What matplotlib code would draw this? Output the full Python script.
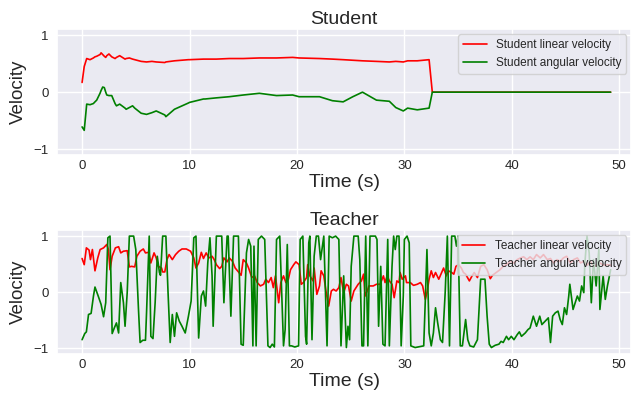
"""Student vs teacher velocity commands over one episode."""

import matplotlib

matplotlib.use("Agg")
import matplotlib.pyplot as plt
import seaborn as sns

# student policy (stops at ~32.6 s, zero afterwards)
student_time = [
    0.0, 0.2, 0.43, 0.74, 1.05, 1.2, 1.36, 1.67, 1.77, 1.92, 2.07, 2.2, 2.3, 2.5,
    2.76, 3.07, 3.2, 3.5, 4.0, 4.1, 4.4, 4.7, 4.9, 5.5, 6.0, 6.5, 6.9, 7.7, 7.8,
    8.6, 9.9, 10.0, 11.3, 11.45, 12.5, 13.7, 15.0, 16.5, 18.1, 19.6, 20.2, 22.1,
    23.3, 24.3, 25.2, 26.1, 27.4, 28.6, 29.2, 29.9, 30.3, 31.2, 32.3, 32.6, 49.2,
]
student_linear = [
    0.17, 0.45, 0.59, 0.57, 0.6, 0.62, 0.63, 0.66, 0.69, 0.66, 0.63, 0.61, 0.64, 0.67,
    0.62, 0.59, 0.61, 0.64, 0.58, 0.59, 0.6, 0.58, 0.57, 0.54, 0.53, 0.54, 0.53, 0.52, 0.53,
    0.55, 0.57, 0.57, 0.58, 0.58, 0.58, 0.59, 0.59, 0.6, 0.6, 0.61, 0.6, 0.59,
    0.58, 0.57, 0.56, 0.55, 0.54, 0.53, 0.54, 0.53, 0.55, 0.55, 0.57, 0.0, 0.0,
]
student_angular = [
    -0.61, -0.67, -0.21, -0.22, -0.2, -0.17, -0.14, -0.02, 0.03, 0.09, 0.08, 0.0, -0.05, -0.06,
    -0.06, -0.2, -0.24, -0.21, -0.28, -0.3, -0.27, -0.24, -0.28, -0.37, -0.39, -0.36, -0.33, -0.4, -0.43,
    -0.3, -0.19, -0.18, -0.12, -0.12, -0.1, -0.08, -0.05, -0.02, -0.06, -0.05, -0.08, -0.08,
    -0.15, -0.17, -0.08, 0.0, -0.14, -0.16, -0.27, -0.33, -0.28, -0.31, -0.28, 0.0, 0.0,
]

# teacher (expert) commands
teacher_lin_time = [
    0.0, 0.2, 0.4, 0.65, 0.78, 0.96, 1.2, 1.46, 1.68, 2.0, 2.3, 2.45, 2.6, 2.8, 3.1,
    3.4, 3.6, 3.85, 4.2, 4.4, 4.6, 4.9, 5.1, 5.4, 5.7, 5.9, 6.2, 6.4, 6.7, 6.9, 7.1,
    7.4, 7.5, 7.7, 7.9, 8.1, 8.4, 8.7, 9.0, 9.3, 9.7, 10.1, 10.4, 10.6, 10.85, 11.1,
    11.3, 11.55, 11.8, 12.1, 12.3, 12.5, 12.8, 13.0, 13.2, 13.5, 13.7, 14.0, 14.25,
    14.6, 14.8, 15.0, 15.3, 15.5, 15.8, 16.05, 16.3, 16.6, 16.9, 17.1, 17.35, 17.6,
    17.8, 18.0, 18.3, 18.5, 18.75, 18.97, 19.2, 19.4, 19.7, 19.9, 20.2, 20.4, 20.6,
    20.9, 21.0, 21.2, 21.5, 21.6, 21.85, 22.1, 22.25, 22.5, 22.7, 22.95, 23.2, 23.4,
    23.65, 23.9, 24.1, 24.35, 24.6, 24.8, 25.05, 25.3, 25.5, 25.7, 26.0, 26.2, 26.35,
    26.6, 26.7, 26.9, 27.1, 27.4, 27.75, 28.05, 28.2, 28.4, 28.6, 28.85, 29.05, 29.3,
    29.5, 29.6, 29.8, 30.1, 30.2, 30.55, 30.85, 31.2, 31.5, 31.7, 31.95, 32.1, 32.3,
    32.5, 32.7, 32.9, 33.2, 33.4, 33.65, 33.9, 34.1, 34.4, 34.6, 34.8, 35.05, 35.3,
    35.5, 35.7, 36.05, 36.3, 36.5, 36.8, 37.1, 37.4, 37.7, 38.0, 38.2, 38.55, 38.9,
    39.2, 39.5, 39.85, 40.2, 40.5, 40.8, 41.1, 41.4, 41.7, 42.0, 42.3, 42.65, 42.95,
    43.3, 43.6, 43.9, 44.2, 44.5, 44.8, 45.1, 45.45, 45.75, 46.1, 46.4, 46.7, 47.0,
    47.3, 47.6, 47.9, 48.2, 48.55, 48.9, 49.2,
]
teacher_linear = [
    0.6, 0.49, 0.79, 0.75, 0.58, 0.76, 0.38, 0.61, 0.76, 0.79, 0.85, 0.76, 0.4, 0.64, 0.79,
    0.81, 0.7, 0.73, 0.74, 0.45, 0.46, 0.45, 0.64, 0.73, 0.77, 0.7, 0.71, 0.52, 0.7, 0.61, 0.46,
    0.43, 0.36, 0.36, 0.58, 0.67, 0.58, 0.67, 0.73, 0.77, 0.77, 0.73, 0.61, 0.43, 0.52, 0.71,
    0.6, 0.7, 0.61, 0.64, 0.58, 0.49, 0.42, 0.46, 0.61, 0.54, 0.61, 0.55, 0.43,
    0.35, 0.3, 0.58, 0.52, 0.43, 0.26, 0.29, 0.17, 0.11, 0.14, 0.23, 0.17, 0.26,
    0.08, 0.29, -0.19, 0.17, 0.29, 0.17, 0.23, 0.4, 0.49, 0.54, 0.49, 0.14, 0.17,
    0.26, 0.49, 0.29, 0.2, 0.43, -0.04, 0.11, 0.38, 0.29, 0.02, -0.25, 0.02, 0.05,
    0.02, 0.08, 0.26, -0.01, 0.14, 0.11, -0.16, 0.02, 0.08, 0.14, 0.2, 0.32, -0.07,
    0.05, 0.11, 0.11, 0.11, 0.14, 0.14, 0.29, 0.17, 0.29, 0.2, 0.14, -0.1, 0.2,
    0.17, 0.35, 0.23, 0.29, 0.17, 0.17, 0.12, 0.14, 0.17, 0.11, -0.13, -0.01, 0.23,
    0.38, 0.26, 0.35, 0.23, 0.32, 0.43, 0.29, 0.38, 0.35, 0.32, 0.46, 0.49, 0.43,
    0.35, 0.32, 0.2, 0.29, 0.35, 0.26, 0.46, 0.49, 0.4, 0.24, 0.3, 0.35, 0.4,
    0.46, 0.49, 0.55, 0.52, 0.58, 0.61, 0.63, 0.58, 0.63, 0.58, 0.67, 0.61, 0.67,
    0.58, 0.6, 0.52, 0.58, 0.55, 0.61, 0.64, 0.52, 0.58, 0.61, 0.52, 0.55, 0.48,
    0.55, 0.46, 0.48, 0.52, 0.48, 0.49, 0.48,
]

teacher_ang_time = [
    0.0, 0.25, 0.4, 0.6, 0.84, 1.06, 1.2, 1.5, 1.77, 2.0, 2.2, 2.4, 2.6, 2.8, 3.0,
    3.2, 3.4, 3.6, 3.85, 4.0, 4.2, 4.4, 4.8, 5.0, 5.25, 5.4, 5.65, 5.9, 6.0, 6.25,
    6.4, 6.6, 6.8, 7.0, 7.2, 7.3, 7.5, 7.8, 8.0, 8.2, 8.4, 8.6, 8.8, 9.05, 9.3, 9.6,
    9.9, 10.15, 10.4, 10.6, 10.85, 11.1, 11.3, 11.5, 11.7, 11.9, 12.1, 12.2, 12.5,
    13.0, 13.2, 13.5, 13.6, 13.85, 14.1, 14.55, 14.8, 15.0, 15.3, 15.5, 15.7, 15.9,
    16.0, 16.2, 16.4, 16.7, 17.0, 17.3, 17.5, 17.7, 17.9, 18.1, 18.4, 18.75, 18.9,
    19.1, 19.3, 19.5, 19.8, 20.15, 20.3, 20.55, 20.8, 20.9, 21.1, 21.2, 21.4, 21.6,
    21.8, 22.0, 22.2, 22.5, 22.8, 23.0, 23.3, 23.6, 23.9, 24.1, 24.35, 24.6, 24.75,
    24.9, 25.05, 25.3, 25.7, 25.85, 26.05, 26.2, 26.4, 26.6, 26.8, 27.3, 27.45, 27.6,
    27.8, 28.0, 28.2, 28.45, 28.6, 28.85, 29.0, 29.15, 29.3, 29.5, 29.7, 29.9, 30.0,
    30.25, 30.45, 30.6, 31.0, 31.8, 31.95, 32.1, 32.3, 32.5, 32.7, 32.9, 33.1, 33.35,
    33.55, 33.8, 34.0, 34.2, 34.4, 34.7, 34.85, 35.0, 35.2, 35.4, 35.7, 35.9, 36.1,
    36.45, 36.8, 37.1, 37.5, 37.7, 37.9, 38.1, 38.45, 38.8, 39.0, 39.2, 39.5, 39.7,
    39.95, 40.2, 40.5, 40.7, 40.9, 41.25, 41.5, 41.7, 42.0, 42.3, 42.6, 42.8, 43.1,
    43.4, 43.6, 43.8, 44.05, 44.3, 44.5, 44.7, 44.9, 45.1, 45.3, 45.4, 45.7, 45.9,
    46.1, 46.3, 46.5, 46.7, 46.8, 47.0, 47.2, 47.4, 47.6, 47.85, 48.1, 48.2, 48.5,
    48.7, 48.9, 49.2,
]
teacher_angular = [
    -0.85, -0.74, -0.71, -0.4, -0.38, -0.07, 0.09, -0.07, -0.22, -0.44, -0.19, 0.97, 1.0, -0.74, -0.64,
    -0.55, -0.73, 0.17, -0.19, -0.61, -0.01, 1.0, 1.0, 0.76, -0.31, -0.9, -0.86, -0.86, -0.37, 1.0,
    -0.79, -0.83, -0.19, 0.64, 0.35, 0.3, 1.0, 1.0, 0.0, -0.9, -0.4, -0.79, -0.37, -0.52, -0.61, -0.73,
    -0.43, -0.16, 0.97, 1.0, -0.82, -0.07, 0.02, -0.25, 0.52, 0.97, 0.29, -0.61, 1.0,
    1.0, -0.19, 1.0, 1.0, -0.43, 1.0, 1.0, -0.93, -0.95, 0.7, 0.94, 0.82, -0.96,
    0.82, -0.96, 0.94, 1.0, 0.94, -0.96, -0.99, -0.93, -0.98, 0.94, 1.0, -0.96, -0.67,
    0.85, -0.96, -0.96, -0.98, -0.96, 0.94, 1.0, -0.79, -0.93, 0.88, 1.0, -0.85, 0.64,
    1.0, 1.0, 0.58, 1.0, -0.96, 1.0, 0.97, 1.0, 0.94, -0.96, 0.29, -0.99, -0.61,
    -0.85, 0.46, 1.0, 1.0, 0.58, -0.96, -0.96, 1.0, -0.96, 1.0, 1.0, 0.94, -0.61,
    0.46, -0.93, -0.96, 0.94, -0.96, 0.46, 1.0, 0.76, 1.0, 1.0, -0.96, -0.07, 0.94,
    1.0, 0.88, -0.96, -0.99, -0.96, -0.13, 0.76, -0.73, -0.96, -0.73, -0.28, -0.55, -0.85,
    -0.9, 0.0, 1.0, -0.96, 1.0, 1.0, 0.82, 1.0, -0.96, -0.96, -0.49, -0.85, -0.96,
    -0.98, -0.85, 0.23, 0.23, -0.43, -0.93, -0.99, -0.95, -0.93, -0.88, -0.9, -0.79, -0.85,
    -0.79, -0.85, -0.76, -0.71, -0.79, -0.73, -0.67, -0.64, -0.43, -0.61, -0.43, -0.58, -0.52,
    -0.46, -0.9, -0.43, -0.37, -0.34, -0.49, -0.58, -0.28, -0.4, -0.07, 0.14, -0.31, -0.19,
    -0.07, -0.16, 0.11, -0.01, 0.52, 1.0, 0.7, -0.19, 0.58, 0.11, 0.76, -0.31, 0.29,
    -0.13, 0.11, 0.4,
]

sns.set_theme(style="darkgrid")
plt.rcParams["font.family"] = ["Liberation Sans", "DejaVu Sans"]

fig = plt.figure(figsize=(6.41, 3.93), dpi=100)
ax_top = fig.add_axes([0.089, 0.606, 0.8955, 0.319])
ax_bot = fig.add_axes([0.089, 0.100, 0.8955, 0.3135])

ax_top.plot(student_time, student_linear, color="red", lw=1.2, label="Student linear velocity")
ax_top.plot(student_time, student_angular, color="green", lw=1.2, label="Student angular velocity")
ax_bot.plot(teacher_lin_time, teacher_linear, color="red", lw=1.2, label="Teacher linear velocity")
ax_bot.plot(teacher_ang_time, teacher_angular, color="green", lw=1.2, label="Teacher angular velocity")

for ax, title in [(ax_top, "Student"), (ax_bot, "Teacher")]:
    ax.set_title(title, fontsize=14, pad=4)
    ax.set_xlabel("Time (s)", fontsize=14, labelpad=2)
    ax.set_ylabel("Velocity", fontsize=13.5, labelpad=5)
    ax.set_xlim(-2.33, 51.1)
    ax.set_ylim(-1.1, 1.1)
    ax.set_xticks([0, 10, 20, 30, 40, 50])
    ax.set_yticks([-1, 0, 1])
    ax.tick_params(axis="x", labelsize=9.5, length=0, pad=3.5)
    ax.tick_params(axis="y", labelsize=9.5, length=0, pad=6)
    ax.legend(loc="upper right", fontsize=8.5, framealpha=0.8, borderaxespad=0.4)

fig.savefig("out.png", dpi=100)
